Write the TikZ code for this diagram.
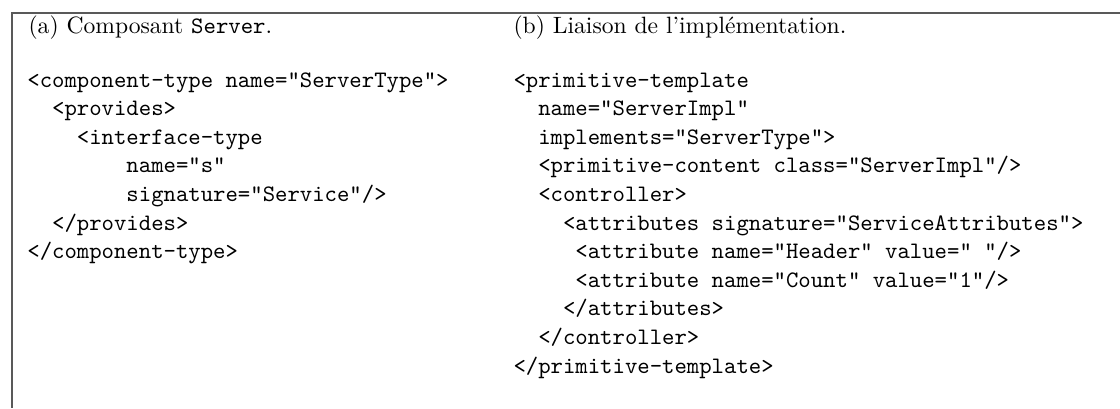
\documentclass[tikz,border=0pt]{standalone}
\usepackage{fontspec}
\begin{document}
\begin{tikzpicture}[x=1pt,y=1pt,
  codeline/.style={anchor=base west, inner sep=0pt, font=\ttfamily},
  subcap/.style={anchor=base west, inner sep=0pt, font=\rmfamily},
  framestyle/.style={draw=black!65, line width=0.8pt}]
\useasboundingbox (0,0) rectangle (474.6,-172.9);
% frame (top and left edges)
\coordinate (ftop) at (474.6,-5.6);
\coordinate (fcorner) at (4.95,-5.6);
\coordinate (fbot) at (4.95,-172.9);
\draw[framestyle] (ftop) -- (fcorner) -- (fbot);
% captions
\node[subcap] (capa) at (11.9,-14.0) {(a) Composant \texttt{Server}.};
\node[subcap] (capb) at (217.4,-14.0) {(b) Liaison de l'implémentation.};
% left column
\def\cw{5.25}
\def\xl{11.4}
\def\xr{217.4}
\def\bs{12.12}
\node[codeline] (l1) at (\xl+0*\cw,-36.9-0*\bs) {<component-type name="ServerType">};
\node[codeline] (l2) at (\xl+2*\cw,-36.9-1*\bs) {<provides>};
\node[codeline] (l3) at (\xl+4*\cw,-36.9-2*\bs) {<interface-type};
\node[codeline] (l4) at (\xl+8*\cw,-36.9-3*\bs) {name="s"};
\node[codeline] (l5) at (\xl+8*\cw,-36.9-4*\bs) {signature="Service"/>};
\node[codeline] (l6) at (\xl+2*\cw,-36.9-5*\bs) {</provides>};
\node[codeline] (l7) at (\xl+0*\cw,-36.9-6*\bs) {</component-type>};
% right column
\node[codeline] (r1) at (\xr+0*\cw,-36.9-0*\bs) {<primitive-template};
\node[codeline] (r2) at (\xr+2*\cw,-36.9-1*\bs) {name="ServerImpl"};
\node[codeline] (r3) at (\xr+2*\cw,-36.9-2*\bs) {implements="ServerType">};
\node[codeline] (r4) at (\xr+2*\cw,-36.9-3*\bs) {<primitive-content class="ServerImpl"/>};
\node[codeline] (r5) at (\xr+2*\cw,-36.9-4*\bs) {<controller>};
\node[codeline] (r6) at (\xr+4*\cw,-36.9-5*\bs) {<attributes signature="ServiceAttributes">};
\node[codeline] (r7) at (\xr+5*\cw,-36.9-6*\bs) {<attribute name="Header" value="\ "/>};
\node[codeline] (r8) at (\xr+5*\cw,-36.9-7*\bs) {<attribute name="Count" value="1"/>};
\node[codeline] (r9) at (\xr+4*\cw,-36.9-8*\bs) {</attributes>};
\node[codeline] (r10) at (\xr+2*\cw,-36.9-9*\bs) {</controller>};
\node[codeline] (r11) at (\xr+0*\cw,-36.9-10*\bs) {</primitive-template>};
\end{tikzpicture}
\end{document}
